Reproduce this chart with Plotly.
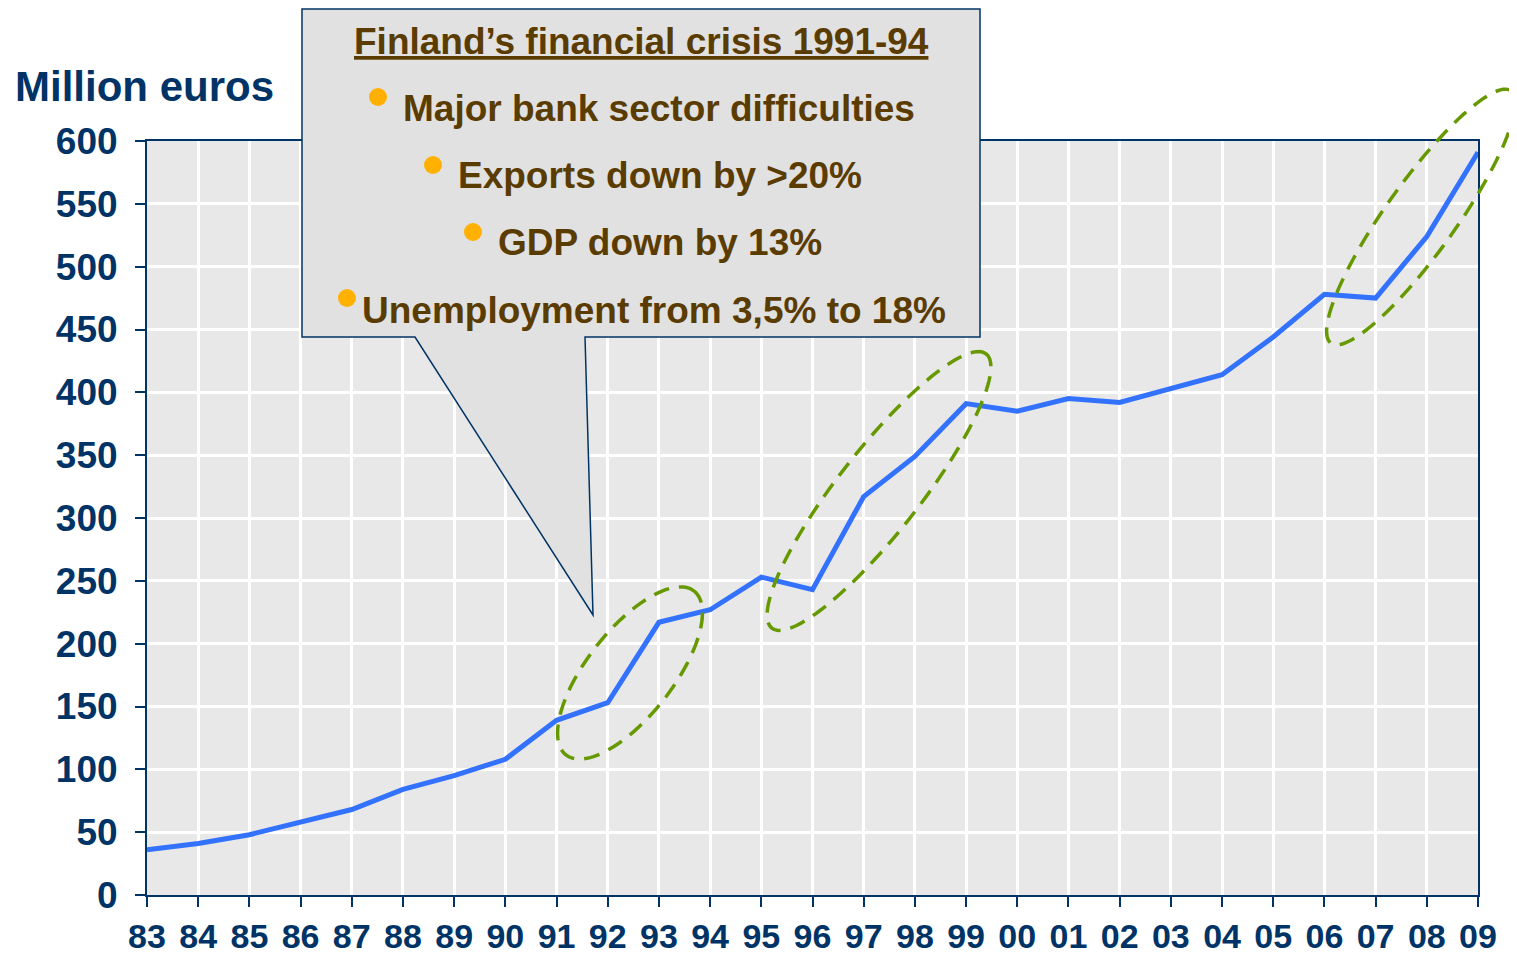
import numpy as np
import plotly.graph_objects as go

# data
years = list(range(1983, 2010))
year_labels = ['83', '84', '85', '86', '87', '88', '89', '90', '91', '92', '93', '94', '95',
               '96', '97', '98', '99', '00', '01', '02', '03', '04', '05', '06', '07', '08', '09']
values = [36, 41, 48, 58, 68, 84, 95, 108, 139, 153, 217, 227, 253,
          243, 317, 349, 391, 385, 395, 392, 403, 414, 444, 478, 475, 524, 591]

callout_title = 'Finland\u2019s financial crisis 1991-94'
callout_points = ['Major bank sector difficulties', 'Exports down by >20%',
                  'GDP down by 13%', 'Unemployment from 3,5% to 18%']

OFF = 8  # page body margin
W, H = 1517 - OFF, 955 - OFF
L, R, T, B = 147 - OFF, 1478 - OFF, 141 - OFF, 895 - OFF  # plot area in figure pixels

NAVY = '#003366'
BROWN = '#5a3c00'
FONT = 'Liberation Sans'


def px(x, y):
    # screen pixel (as in the reference) -> paper coordinates
    x, y = x - OFF, y - OFF
    return (x - L) / (R - L), (B - y) / (B - T)


def path_from(points, close=True):
    parts = []
    for i, (x, y) in enumerate(points):
        xp, yp = px(x, y)
        parts.append(('M' if i == 0 else 'L') + f'{xp:.5f},{yp:.5f}')
    return ' '.join(parts) + (' Z' if close else '')


def ellipse(cx, cy, a, b, ang):
    t = np.linspace(0, 2 * np.pi, 120)
    th = np.radians(ang)
    xs = cx + a * np.cos(t) * np.cos(th) - b * np.sin(t) * np.sin(th)
    ys = cy - (a * np.cos(t) * np.sin(th) + b * np.sin(t) * np.cos(th))
    return path_from(list(zip(xs, ys)))


fig = go.Figure()
fig.add_trace(go.Scatter(x=years, y=values, mode='lines',
                         line=dict(color='#3371ff', width=5), hoverinfo='x+y'))

shapes = []
# dashed ellipses around the jumps
for cx, cy, a, b, ang in [(630, 673, 104, 43, 52), (879, 491, 174, 41, 52), (1421, 217, 155, 35, 54.5)]:
    shapes.append(dict(type='path', xref='paper', yref='paper', path=ellipse(cx, cy, a, b, ang),
                       line=dict(color='#669900', width=3.5, dash='16px,10px'), layer='above'))

# callout box with pointer
shapes.append(dict(type='path', xref='paper', yref='paper', layer='above',
                   path=path_from([(302, 9), (980, 9), (980, 337), (585, 337), (593, 615),
                                   (415, 337), (302, 337)]),
                   fillcolor='#e1e1e1', line=dict(color=NAVY, width=1.5)))

annotations = []
tx, ty = px(641, 42)
annotations.append(dict(x=tx, y=ty, xref='paper', yref='paper', showarrow=False,
                        xanchor='center', yanchor='middle',
                        text=f'<u>{callout_title}</u>',
                        font=dict(family=FONT, size=37, color=BROWN, weight='bold')))
bullet_pos = [((378, 97), (401, 108)), ((433, 165), (456, 175)),
              ((473, 232), (496, 242)), ((347, 298), (360, 310))]
for txt, ((bx, by), (lx, ly)) in zip(callout_points, bullet_pos):
    shapes.append(dict(type='circle', xref='paper', yref='paper', layer='above',
                       x0=px(bx - 9, 0)[0], x1=px(bx + 9, 0)[0],
                       y0=px(0, by + 9)[1], y1=px(0, by - 9)[1],
                       fillcolor='#ffb000', line=dict(width=0)))
    lxp, lyp = px(lx, ly)
    annotations.append(dict(x=lxp, y=lyp, xref='paper', yref='paper', showarrow=False,
                            xanchor='left', yanchor='middle', text=txt,
                            font=dict(family=FONT, size=37, color=BROWN, weight='bold')))

# y axis title
ax, ay = px(13, 86)
annotations.append(dict(x=ax, y=ay, xref='paper', yref='paper', showarrow=False,
                        xanchor='left', yanchor='middle', text='Million euros',
                        font=dict(family=FONT, size=42, color=NAVY, weight='bold')))

axis_common = dict(showline=True, linecolor=NAVY, linewidth=2, mirror=True,
                   ticks='outside', ticklen=10, tickcolor=NAVY, tickwidth=2,
                   showgrid=True, gridcolor='white', gridwidth=3, zeroline=False,
                   automargin=False)

fig.update_layout(
    width=W, height=H,
    margin=dict(l=L, r=W - R, t=T, b=H - B),
    paper_bgcolor='white', plot_bgcolor='#e8e8e8',
    showlegend=False,
    xaxis=dict(range=[1983, 2009], tickmode='array', tickvals=years, ticktext=year_labels,
               tickfont=dict(family=FONT, size=34, color=NAVY, weight='bold'),
               **axis_common),
    yaxis=dict(range=[0, 600], dtick=50, ticklabelstandoff=10,
               tickfont=dict(family=FONT, size=37, color=NAVY, weight='bold'),
               **axis_common),
    shapes=shapes,
    annotations=annotations,
)

fig.write_html('out.html')
